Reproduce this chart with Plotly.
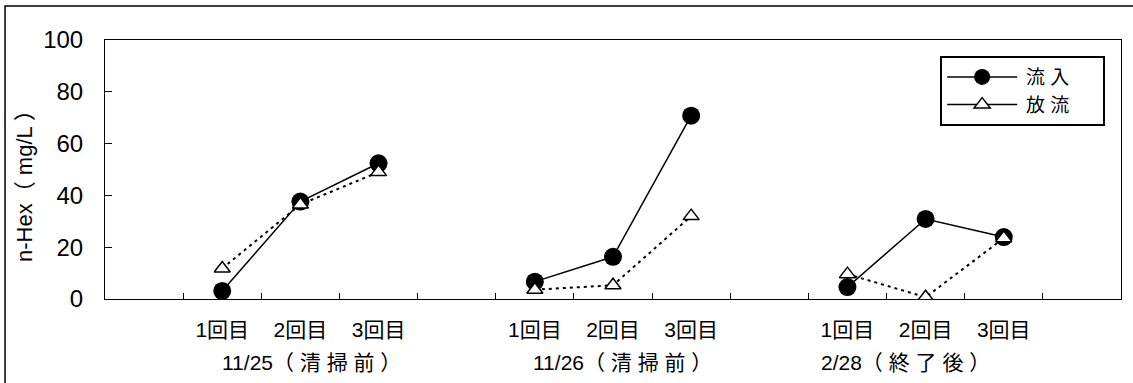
import plotly.graph_objects as go

# categories (13 slots on a category-like axis: gaps between groups)
slot_labels = ["", "1回目", "2回目", "3回目", "", "1回目", "2回目", "3回目", "", "1回目", "2回目", "3回目", ""]
group_labels = ["11/25（ 清 掃 前 ）", "11/26（ 清 掃 前 ）", "2/28（ 終 了 後 ）"]
group_pos = [2.14, 6.12, 9.74]

# series values per group (1回目, 2回目, 3回目)
inflow_1125 = [3.1, 37.6, 52.4]
inflow_1126 = [6.7, 16.3, 70.8]
inflow_0228 = [4.6, 30.9, 23.9]
outflow_1125 = [11.8, 36.5, 49.0]
outflow_1126 = [3.6, 5.3, 32.0]
outflow_0228 = [9.6, 0.7, 23.5]

group_slots = [[1, 2, 3], [5, 6, 7], [9, 10, 11]]

def join(groups):
    xs, ys = [], []
    for slots, vals in zip(group_slots, groups):
        xs += slots + [None]
        ys += vals + [None]
    return xs[:-1], ys[:-1]

FONT = "Liberation Sans, Arial, Noto Sans CJK JP, sans-serif"

fig = go.Figure()
x_in, y_in = join([inflow_1125, inflow_1126, inflow_0228])
x_out, y_out = join([outflow_1125, outflow_1126, outflow_0228])

fig.add_trace(go.Scatter(
    x=x_in, y=y_in, mode="lines+markers", name="流入", showlegend=False,
    line=dict(color="black", width=1.5),
    marker=dict(symbol="circle", size=18, color="black"),
    connectgaps=False,
))
fig.add_trace(go.Scatter(
    x=x_out, y=y_out, mode="lines+markers", name="放流", showlegend=False,
    line=dict(color="black", width=2, dash="3px,4px"),
    marker=dict(symbol="triangle-up", size=14, color="white", line=dict(color="black", width=1.5)),
    connectgaps=False,
))
# legend entries (solid lines as in the reference legend)
fig.add_trace(go.Scatter(
    x=[None], y=[None], mode="lines+markers", name="\u2009流 入\u3000\u2002",
    line=dict(color="black", width=1.5),
    marker=dict(symbol="circle", size=16, color="black"),
))
fig.add_trace(go.Scatter(
    x=[None], y=[None], mode="lines+markers", name="\u2009放 流\u3000\u2002",
    line=dict(color="black", width=1.5),
    marker=dict(symbol="triangle-up", size=14, color="white", line=dict(color="black", width=1.5)),
))

for txt, xp in zip(group_labels, group_pos):
    fig.add_annotation(x=xp, y=-0.245, xref="x", yref="paper", text=txt,
                       showarrow=False, font=dict(size=21, color="black", family=FONT),
                       xanchor="center", yanchor="middle")

fig.add_annotation(x=-0.0787, y=0.456, xref="paper", yref="paper", text="n-Hex（ mg/L ）",
                   textangle=-90, showarrow=False, font=dict(size=22, color="black", family=FONT),
                   xanchor="center", yanchor="middle")

# outer frame
fig.add_shape(type="rect", xref="paper", yref="paper",
              x0=-0.0984, x1=1.03, y0=-0.36, y1=1.131,
              line=dict(color="black", width=1.5), fillcolor="rgba(0,0,0,0)")

fig.update_layout(
    width=1133, height=383,
    margin=dict(l=105, r=12, t=40, b=84),
    paper_bgcolor="white", plot_bgcolor="white",
    font=dict(family=FONT, color="black"),
    legend=dict(x=0.822, y=0.938, xanchor="left", yanchor="top",
                bordercolor="black", borderwidth=2, bgcolor="white",
                font=dict(size=19, family=FONT), tracegroupgap=0,
                itemwidth=70),
)
fig.update_xaxes(
    range=[-0.5, 12.5], tickmode="array",
    tickvals=list(range(len(slot_labels))), ticktext=slot_labels,
    ticks="", showgrid=False, zeroline=False,
    showline=True, linecolor="black", linewidth=1, mirror=True,
    tickfont=dict(size=21, family=FONT),
    ticklabelstandoff=12,
    minor=dict(tickmode="array", tickvals=[i + 0.5 for i in range(12)],
               ticks="inside", ticklen=6, tickcolor="black", showgrid=False),
)
fig.update_yaxes(
    range=[0, 100], tickvals=[0, 20, 40, 60, 80, 100],
    ticks="inside", ticklen=7, tickcolor="black",
    showgrid=False, zeroline=False,
    showline=True, linecolor="black", linewidth=1, mirror=True,
    tickfont=dict(size=24, family=FONT),
    ticklabelstandoff=16,
)

fig.write_html("out.html", config={"displayModeBar": False},
               post_script="document.body.style.margin='0';document.body.style.overflow='hidden';")
